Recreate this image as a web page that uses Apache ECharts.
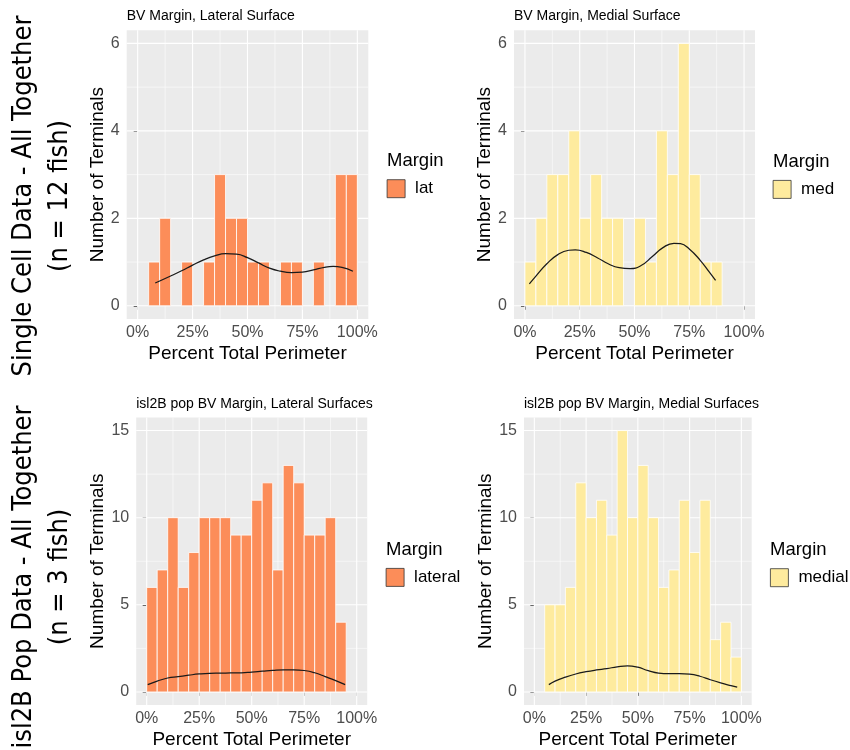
<!DOCTYPE html>
<html><head><meta charset="utf-8">
<script src="https://cdn.jsdelivr.net/npm/echarts@6/dist/echarts.min.js"></script>
<style>html,body{margin:0;padding:0;background:#fff}#c{width:850px;height:750px}</style>
</head><body><div id="c"></div>
<script>
// ---------------- DATA ----------------
const binStarts = [0,5,10,15,20,25,30,35,40,45,50,55,60,65,70,75,80,85,90,95];
const binWidth = 5;
const latCounts     = [0,1,2,0,1,0,1,3,2,2,1,1,0,1,1,0,1,0,3,3];
const medCounts     = [1,2,3,3,4,2,3,2,2,0,2,1,4,3,6,3,1,1,0,0];
const lateralCounts = [6,7,10,6,8,10,10,10,9,9,11,12,7,13,12,9,9,10,4,0];
const medialCounts  = [0,5,5,6,12,10,11,9,15,10,13,10,6,7,11,8,11,3,4,2];

const latDensity = [[8,0.52],[15,0.68],[20,0.80],[25,0.93],[30,1.05],[35,1.14],[40,1.19],[45,1.18],[50,1.10],[55,0.98],[60,0.86],[65,0.79],[70,0.76],[75,0.77],[80,0.82],[85,0.88],[89,0.90],[93,0.88],[98,0.79]];
const medDensity = [[2,0.50],[5,0.68],[10,0.96],[15,1.17],[20,1.27],[23,1.28],[28,1.22],[33,1.10],[38,0.96],[43,0.87],[48,0.85],[53,0.92],[58,1.12],[63,1.33],[68,1.43],[71,1.42],[75,1.30],[80,1.04],[84,0.78],[87,0.58]];
const lateralDensity = [[0.5,0.42],[5,0.62],[10,0.80],[15,0.88],[20,0.96],[25,1.03],[30,1.07],[35,1.08],[40,1.09],[45,1.10],[50,1.14],[55,1.19],[60,1.24],[65,1.27],[70,1.27],[75,1.23],[80,1.10],[85,0.88],[90,0.65],[94.5,0.42]];
const medialDensity = [[7,0.42],[10,0.62],[15,0.85],[20,1.03],[25,1.16],[30,1.26],[35,1.34],[40,1.44],[45,1.50],[50,1.42],[55,1.22],[60,1.08],[65,1.05],[70,1.05],[75,1.02],[80,0.90],[85,0.70],[90,0.52],[95,0.36],[98,0.27]];

const xTickValues = [0,25,50,75,100];
const xMinorValues = [12.5,37.5,62.5,87.5];
const yTicksTop = [0,2,4,6];
const yMinorTop = [1,3,5];
const yTicksBottom = [0,5,10,15];
const yMinorBottom = [2.5,7.5,12.5];

const panelTitles = ['BV Margin, Lateral Surface','BV Margin, Medial Surface','isl2B pop BV Margin, Lateral Surfaces','isl2B pop BV Margin, Medial Surfaces'];
const legendNames = ['lat','med','lateral','medial'];
const legendTitle = 'Margin';
const xAxisTitle = 'Percent Total Perimeter';
const yAxisTitle = 'Number of Terminals';
const rowLabels = [['Single Cell Data - All Together','(n = 12 fish)'],['isl2B Pop Data - All Together','(n = 3 fish)']];

// ---------------- LAYOUT / STYLE ----------------
const FONT = '"Liberation Sans", Arial, Helvetica, sans-serif';
const ORANGE = '#FC8D59', YELLOW = '#FEEB9E';
const panels = [
  {grid:{left:126.7, top:30.3, width:241.6, height:288.6}, ymin:-0.3, ymax:6.3, yt:yTicksTop, ym:yMinorTop, counts:latCounts, dens:latDensity, color:ORANGE, nameGap:17, leg:{left:386.7, top:179.3}, mt:{left:387, top:151}, title:{left:126.7, top:9}},
  {grid:{left:514, top:30.3, width:241, height:288.6}, ymin:-0.3, ymax:6.3, yt:yTicksTop, ym:yMinorTop, counts:medCounts, dens:medDensity, color:YELLOW, nameGap:17, leg:{left:772.7, top:180}, mt:{left:773, top:152}, title:{left:514, top:9}},
  {grid:{left:136.2, top:417.5, width:231, height:289.7}, ymin:-0.75, ymax:15.75, yt:yTicksBottom, ym:yMinorBottom, counts:lateralCounts, dens:lateralDensity, color:ORANGE, nameGap:26.5, leg:{left:385.7, top:568}, mt:{left:386, top:540}, title:{left:136.2, top:397}},
  {grid:{left:524, top:417.5, width:227.7, height:289.7}, ymin:-0.75, ymax:15.75, yt:yTicksBottom, ym:yMinorBottom, counts:medialCounts, dens:medialDensity, color:YELLOW, nameGap:26.5, leg:{left:770, top:568.3}, mt:{left:770, top:540}, title:{left:524, top:397}}
];

const option = {
  animation:false,
  backgroundColor:'#fff',
  grid:[], xAxis:[], yAxis:[], series:[], legend:[], title:[], graphic:[]
};

panels.forEach((p,i)=>{
  option.grid.push(Object.assign({show:true, backgroundColor:'#EBEBEB', borderWidth:0}, p.grid));
  option.xAxis.push({
    gridIndex:i, type:'value', min:-5, max:105,
    axisLine:{show:false}, splitLine:{show:false},
    axisTick:{show:true, length:4, lineStyle:{color:'#333', width:1}, customValues:xTickValues},
    axisLabel:{customValues:xTickValues, formatter:v=>v+'%', color:'#4D4D4D', fontSize:16, fontFamily:FONT, margin:6},
    name:xAxisTitle, nameLocation:'middle', nameGap:25,
    nameTextStyle:{fontSize:19, color:'#000', fontFamily:FONT}
  });
  option.yAxis.push({
    gridIndex:i, type:'value', min:p.ymin, max:p.ymax,
    axisLine:{show:false}, splitLine:{show:false},
    axisTick:{show:true, length:4, lineStyle:{color:'#333', width:1}, customValues:p.yt},
    axisLabel:{customValues:p.yt, color:'#4D4D4D', fontSize:16, fontFamily:FONT, margin:7},
    name:yAxisTitle, nameLocation:'middle', nameGap:p.nameGap, nameRotate:90,
    nameTextStyle:{fontSize:19, color:'#000', fontFamily:FONT}
  });
  // gridlines
  const gridData = [];
  xTickValues.forEach(v=>gridData.push([0,v,1]));
  xMinorValues.forEach(v=>gridData.push([0,v,0]));
  p.yt.forEach(v=>gridData.push([1,v,1]));
  p.ym.forEach(v=>gridData.push([1,v,0]));
  option.series.push({
    type:'custom', xAxisIndex:i, yAxisIndex:i, silent:true, z:1,
    data:gridData,
    renderItem:(params, api)=>{
      const cs = params.coordSys;
      const orient = api.value(0), v = api.value(1), major = api.value(2);
      const lw = major ? 1.1 : 0.55;
      if (orient === 0) {
        const x = api.coord([v, 0])[0];
        return {type:'line', shape:{x1:x, y1:cs.y, x2:x, y2:cs.y+cs.height}, style:{stroke:'#fff', lineWidth:lw}};
      }
      const y = api.coord([0, v])[1];
      return {type:'line', shape:{x1:cs.x, y1:y, x2:cs.x+cs.width, y2:y}, style:{stroke:'#fff', lineWidth:lw}};
    }
  });
  // histogram bars
  const barData = [];
  binStarts.forEach((s,k)=>{ if (p.counts[k] > 0) barData.push([s, s+binWidth, p.counts[k]]); });
  option.series.push({
    type:'custom', name:legendNames[i], xAxisIndex:i, yAxisIndex:i, z:2,
    itemStyle:{color:p.color},
    encode:{x:[0,1], y:2},
    data:barData,
    renderItem:(params, api)=>{
      const a = api.coord([api.value(0), 0]);
      const b = api.coord([api.value(1), api.value(2)]);
      return {type:'rect', shape:{x:a[0], y:b[1], width:b[0]-a[0], height:a[1]-b[1]},
              style:{fill:p.color, stroke:'#fff', lineWidth:0.8}};
    }
  });
  // density line
  option.series.push({
    type:'line', xAxisIndex:i, yAxisIndex:i, z:4, silent:true,
    data:p.dens, smooth:true, symbol:'none', showSymbol:false,
    lineStyle:{color:'#1a1a1a', width:1.25}
  });
  option.legend.push({
    left:p.leg.left, top:p.leg.top, orient:'vertical', padding:0,
    itemWidth:18, itemHeight:18, icon:'rect', data:[legendNames[i]], selectedMode:false,
    itemStyle:{borderColor:'#333', borderWidth:0.8},
    textStyle:{fontSize:17, color:'#000', fontFamily:FONT, padding:[0,0,0,5]}
  });
  option.title.push({text:panelTitles[i], left:p.title.left, top:p.title.top, padding:0,
    textStyle:{fontSize:14, fontWeight:'normal', color:'#000', fontFamily:FONT}});
  option.title.push({text:legendTitle, left:p.mt.left, top:p.mt.top, padding:0,
    textStyle:{fontSize:18.5, fontWeight:'normal', color:'#000', fontFamily:FONT}});
});

const BIGFONT = '27px "DejaVu Sans Condensed", "Liberation Sans", sans-serif';
const rowCenters = [196, 577];
rowLabels.forEach((lines, r)=>{
  lines.forEach((t, j)=>{
    option.graphic.push({type:'text', x: j===0 ? 24 : 60, y: rowCenters[r], rotation:Math.PI/2,
      style:{text:t, font:BIGFONT, fill:'#000', textAlign:'center', textVerticalAlign:'middle'}});
  });
});

const chart = echarts.init(document.getElementById('c'), null, {renderer:'canvas'});
chart.setOption(option);
</script>
</body></html>
